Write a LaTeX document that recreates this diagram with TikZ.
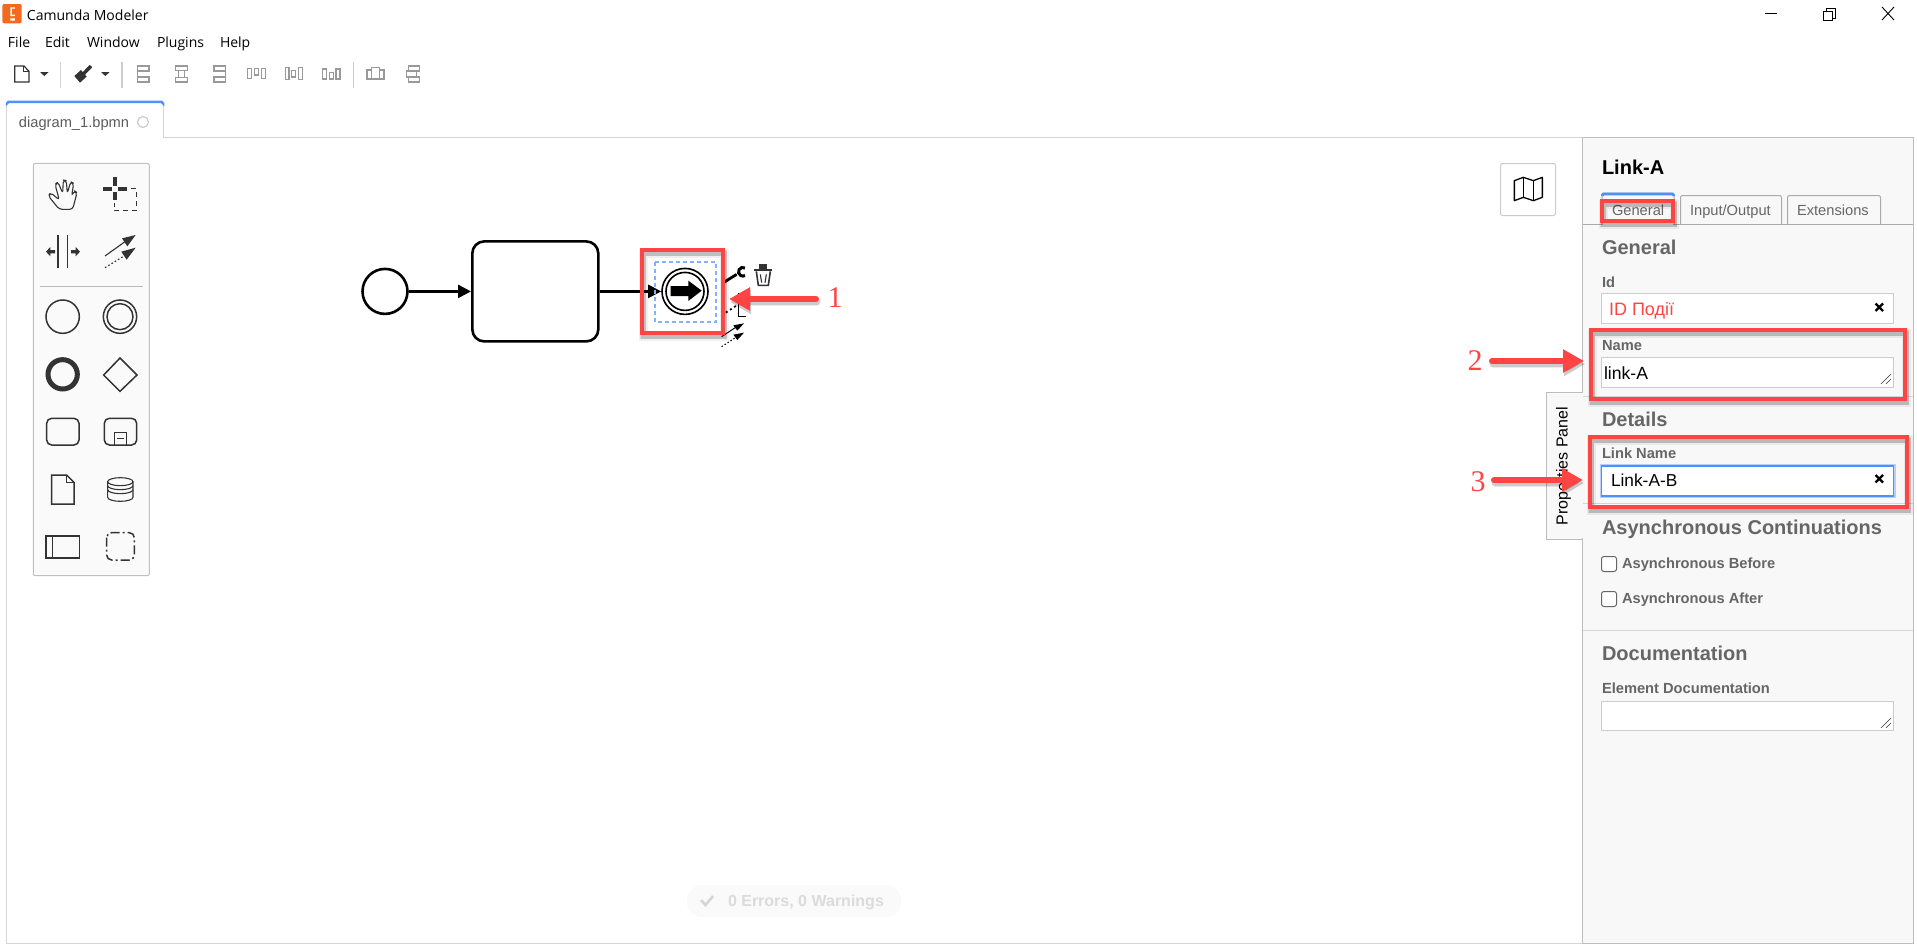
\documentclass[tikz,border=0pt]{standalone}
\usepackage{fontspec}
\setmainfont{Liberation Sans}
\newfontfamily\uifont{Open Sans}
\newfontfamily\annfont{Liberation Serif}
\usetikzlibrary{arrows.meta,calc}
\definecolor{redann}{HTML}{FF4444}
\definecolor{panelbg}{HTML}{F8F8F8}
\definecolor{inputline}{HTML}{CCCCCC}
\definecolor{bordergray}{HTML}{D5D5D5}
\definecolor{paneledge}{HTML}{BDBDBD}
\definecolor{headgray}{HTML}{666666}
\definecolor{icongray}{HTML}{999999}
\definecolor{iconink}{HTML}{333333}
\definecolor{focusblue}{HTML}{4D90FF}
\definecolor{focusglow}{HTML}{B5D0FF}
\definecolor{tabblue}{HTML}{4D90FF}
\definecolor{orangelogo}{HTML}{F4691C}
\newcommand{\fs}[1]{\fontsize{#1}{#1}\selectfont}
\newcommand{\redbox}[2]{%
  \foreach \wd/\op in {9/.06,6.5/.09,5/.12}{\draw[line width=\wd pt,black,opacity=\op] ($(#1)+(1,3)$) rectangle ($(#2)+(1,3)$);}%
  \draw[redframe] (#1) rectangle (#2);}
\newcommand{\redarrow}[2]{%
  \foreach \wd/\op in {8/.08,6/.13}{\draw[line width=\wd pt,black,opacity=\op,line cap=round,-{Triangle[length=21pt,width=23pt]}] ($(#1)+(1,3)$) -- ($(#2)+(1,3)$);}%
  \draw[annarrow] (#1) -- (#2);}
\tikzset{
  txt/.style={inner sep=0,outer sep=0,anchor=west,yshift=-1.7pt,execute at begin node=\vphantom{Ag}},
  uitxt/.style={txt,font=\uifont\fs{14},text=black},
  tabtxt/.style={txt,font=\fs{14.67},text=headgray},
  heading/.style={txt,font=\bfseries\fs{20},text=headgray},
  fieldlabel/.style={txt,font=\bfseries\fs{14.67},text=headgray},
  inputbox/.style={draw=inputline,fill=white,line width=1pt},
  flowline/.style={line width=2.6pt,black,-{Triangle[length=13pt,width=13pt]}},
  redframe/.style={draw=redann,line width=3.2pt},
  annarrow/.style={redann,line width=6pt,line cap=round,-{Triangle[length=21pt,width=22pt]}},
  annnum/.style={font=\annfont\fs{30},text=redann,inner sep=0},
  pal/.style={draw=iconink,line width=1.5pt},
  tool/.style={draw=icongray,line width=1.4pt},
  clearx/.style={draw=black,line width=2.2pt},
}
\begin{document}
\begin{tikzpicture}[x=1pt,y=-1pt,line join=miter]
\useasboundingbox (0,0) rectangle (1917,948);
\fill[white] (0,0) rectangle (1917,948);

% ---- title bar
\begin{scope}[scale=1/3]
\fill[orangelogo,rounded corners=2pt] (7,12) rectangle (65,70);
\fill[white] (31,22) rectangle (45,26) (31,22) rectangle (36,48) (31,44) rectangle (45,48) (31,55) rectangle (45,62);
\end{scope}
\node[uitxt] (title) at (27,15) {Camunda Modeler};
\node[uitxt] (mfile) at (8,42) {File};
\node[uitxt] (medit) at (45,42) {Edit};
\node[uitxt] (mwindow) at (87,42) {Window};
\node[uitxt] (mplugins) at (157,42) {Plugins};
\node[uitxt] (mhelp) at (220,42) {Help};
\draw[black,line width=1pt] (1765,13) -- (1777,13);
\draw[black,line width=1pt] (1823.5,11.5) rectangle (1832.5,20.5);
\draw[black,line width=1pt] (1826,11.5) -- (1826,8.5) -- (1835.5,8.5) -- (1835.5,18) -- (1832.5,18);
\draw[black,line width=.9pt] (1882,7) -- (1894,20) (1894,7) -- (1882,20);

% ---- toolbar
\begin{scope}[scale=1/3]
\draw[iconink,line width=1.2pt,fill=white] (44,198) -- (72,198) -- (87,214) -- (87,246) -- (44,246) -- cycle;
\draw[iconink,line width=1pt] (72,198) -- (72,214) -- (87,214);
\fill[iconink] (120,216) -- (146,216) -- (133,228) -- cycle;
\draw[bordergray,line width=1pt] (181,186) -- (181,264);
\fill[iconink] (223,228) -- (243,210) -- (260,230) -- (240,248) -- cycle;
\draw[iconink,line width=3.5pt] (250,222) -- (273,198);
\fill[iconink] (303,216) -- (329,216) -- (316,228) -- cycle;
\draw[inputline,line width=2pt] (366,186) -- (366,264);
\end{scope}
\begin{scope}[shift={(130,55)},scale=1/3]
\draw[tool] (23,30) -- (23,84);
\draw[tool] (23,33) rectangle (57,48) (23,66) rectangle (57,81);
\draw[tool] (136,33) rectangle (173,47) (136,67) rectangle (173,81);
\draw[tool] (145,47) -- (145,67) (164,47) -- (164,67);
\draw[tool] (286,30) -- (286,84);
\draw[tool] (252,33) rectangle (286,48) (252,66) rectangle (286,81);
\draw[tool] (353,40) rectangle (365,70) (373,40) rectangle (385,60) (394,40) rectangle (406,70);
\draw[tool] (466,37) rectangle (477,74) (485,46) rectangle (497,66) (506,37) rectangle (518,74);
\draw[tool] (578,42) rectangle (590,72) (598,52) rectangle (610,72) (618,42) rectangle (630,72);
\draw[inputline,line width=1pt] (670,22) -- (670,98);
\draw[tool] (711,45) rectangle (724,72) (724,37) rectangle (748,72) (748,45) rectangle (762,72);
\draw[tool] (836,33) rectangle (868,48) (830,48) rectangle (860,66) (836,66) rectangle (868,81);
\end{scope}

% ---- tab and canvas frame
\draw[bordergray,line width=1pt] (6,137.5) -- (6,943) -- (1582,943);
\draw[bordergray,line width=1pt] (6.5,103) -- (6.5,137.5);
\draw[bordergray,line width=1pt] (163.5,103) -- (163.5,137.5) -- (1582,137.5);
\fill[white] (7,103) rectangle (163,139);
\draw[tabblue,line width=2.5pt,rounded corners=1.5pt] (7,103) -- (7,101.8) -- (163,101.8) -- (163,103);
\node[tabtxt,text=headgray!90!black] (tabname) at (19,122) {diagram\_1.bpmn};
\draw[inputline,line width=1.2pt] (143,122) circle (5.5);

% ---- palette
\begin{scope}[shift={(20,150)},scale=1/3]
\draw[bordergray!90!black,fill=white!98!black,line width=1pt,rounded corners=2pt] (40,40) rectangle (388,1277);
\draw[pal,line width=1.1pt,rounded corners=3pt,line join=round] (118,178) -- (85,138) -- (92,128) -- (118,150) -- (105,103) -- (114,96) -- (128,130) -- (130,90) -- (139,92) -- (142,130) -- (152,95) -- (161,100) -- (155,138) -- (163,122) -- (171,128) -- (158,178) -- cycle;
\draw[iconink,line width=3.6pt] (250,117) -- (275,117) (295,117) -- (320,117) (285,82) -- (285,107) (285,127) -- (285,150);
\draw[iconink,line width=1.3pt,dash pattern=on 5pt off 4pt] (333,116) -- (350,116) -- (350,182) -- (283,182) -- (283,158);
\draw[pal,line width=1.1pt] (114,255) -- (114,355) (142,255) -- (142,355);
\fill[iconink] (78,305) -- (91,291) -- (91,300) -- (105,300) -- (105,310) -- (91,310) -- (91,319) -- cycle;
\fill[iconink] (180,305) -- (167,291) -- (167,300) -- (153,300) -- (153,310) -- (167,310) -- (167,319) -- cycle;
\draw[iconink,line width=1.1pt] (255,318) -- (315,275);
\fill[iconink] (347,255) -- (306,265) -- (322,289) -- cycle;
\draw[iconink,line width=1.2pt,dash pattern=on 1.6pt off 2.2pt] (255,353) -- (312,318);
\fill[iconink] (347,293) -- (304,305) -- (320,329) -- cycle;
\draw[icongray!70,line width=1pt] (60,408) -- (368,408);
\draw[pal] (128,500) circle (50);
\draw[pal] (300,500) circle (50);
\draw[pal] (300,500) circle (39);
\draw[iconink,line width=5pt] (128,673) circle (44);
\draw[pal] (300,624) -- (351,675) -- (300,724) -- (251,675) -- cycle;
\draw[pal,rounded corners=5pt] (80,805) rectangle (177,885);
\draw[pal,rounded corners=5pt] (253,805) rectangle (350,885);
\draw[pal,line width=1.1pt] (283,885) -- (283,848) -- (320,848) -- (320,885);
\draw[pal,line width=1.1pt] (292,865) -- (312,865);
\draw[pal] (95,975) -- (140,975) -- (162,997) -- (162,1062) -- (95,1062) -- cycle;
\draw[pal,line width=1pt] (140,975) -- (140,997) -- (162,997);
\draw[pal,line width=1.1pt] (263,995) -- (263,1042) arc[start angle=180,end angle=0,x radius=38,y radius=12] -- (339,995);
\draw[pal,line width=1.1pt] (301,995) ellipse[x radius=38,y radius=12];
\draw[pal,line width=1.1pt] (263,1007) arc[start angle=180,end angle=0,x radius=38,y radius=12];
\draw[pal,line width=1.1pt] (263,1019) arc[start angle=180,end angle=0,x radius=38,y radius=12];
\draw[pal] (78,1158) rectangle (178,1224);
\draw[pal,line width=1.1pt] (97,1158) -- (97,1224);
\draw[pal,rounded corners=5pt,dash pattern=on 9pt off 3pt on 2pt off 3pt] (260,1148) rectangle (343,1230);
\end{scope}

% ---- BPMN diagram
\node[circle,draw=black,line width=2.6pt,minimum size=45pt,inner sep=0] (startev) at (385,291.4) {};
\node[rectangle,rounded corners=12pt,draw=black,line width=2.6pt,minimum width=126pt,minimum height=100pt,inner sep=0] (task) at (535.3,291.4) {};
\node[circle,draw=black,line width=1.6pt,minimum size=46pt,inner sep=0] (linkev) at (685,291.4) {};
\node[circle,draw=black,line width=1.6pt,minimum size=38pt,inner sep=0] (linkin) at (685,291.4) {};
\draw[flowline] (startev) -- (task);
\draw[flowline] (task) -- (linkev);
\draw[focusblue!70,line width=1.2pt,dash pattern=on 4pt off 3pt] (655,262) rectangle (716,322);

% ---- context pad and event glyph
\begin{scope}[shift={(630,240)},scale=1/3]
\fill[black] (122,138) -- (175,138) -- (175,122) -- (215,152) -- (175,183) -- (175,168) -- (122,168) -- cycle;
\draw[black,line width=2.8pt] (280,128) -- (320,103);
\draw[black,line width=3pt] (345,84) arc[start angle=-60,end angle=-300,radius=13] ;
\fill[iconink] (373,88) rectangle (425,94);
\fill[iconink] (388,72) rectangle (411,87);
\draw[iconink,line width=1.6pt] (379,94) -- (385,136) -- (415,136) -- (421,94);
\draw[iconink,line width=1.1pt] (391,103) -- (395,128) (409,103) -- (405,128);
\draw[black,line width=1.8pt,dash pattern=on 2pt off 3pt] (275,226) -- (322,195);
\draw[black,line width=1.1pt] (345,160) -- (325,160) -- (325,230) -- (347,230);
\draw[black,line width=1pt] (275,290) -- (320,260);
\fill[black] (342,250) -- (310,256) -- (322,272) -- cycle;
\draw[black,line width=1pt,dash pattern=on 1.5pt off 2pt] (275,320) -- (318,292);
\fill[black] (342,278) -- (310,284) -- (322,300) -- cycle;
\end{scope}

% ---- map button
\draw[inputline,fill=white,line width=1pt,rounded corners=2pt] (1500.5,163.5) rectangle (1555.5,215.5);
\begin{scope}[shift={(1440,120)},scale=1/3]
\draw[black,line width=1.3pt,line join=round] (223,182) -- (250,172) -- (280,182) -- (307,172) -- (307,232) -- (280,242) -- (250,232) -- (223,242) -- cycle;
\draw[black,line width=1.1pt] (250,172) -- (250,232) (280,182) -- (280,242);
\end{scope}

% ---- properties panel
\draw[paneledge,fill=panelbg,line width=1pt] (1582,137.5) -- (1913,137.5) -- (1913,943) -- (1582,943) -- cycle;
\draw[paneledge,fill=panelbg,line width=1pt] (1582,392) -- (1546,392) -- (1546,539) -- (1582,539);
\fill[panelbg] (1581,393) rectangle (1583,538);
\node[inner sep=0,rotate=90,font=\fs{16},text=black,execute at begin node=\vphantom{Ag}] (proptab) at (1563.5,466) {Properties Panel};

\node[txt,font=\bfseries\fs{20},text=black] (ptitle) at (1602,168) {Link-A};

\draw[bordergray!80!black,line width=1pt] (1583,224.5) -- (1913,224.5);
\draw[bordergray!80!black,fill=panelbg,line width=1pt,rounded corners=2pt] (1602,224) -- (1602,193) -- (1674,193) -- (1674,224);
\fill[panelbg] (1603,200) rectangle (1673,226);
\draw[tabblue,line width=2.6pt,rounded corners=1pt] (1602.5,196) -- (1602.5,194) -- (1673.5,194) -- (1673.5,196);
\draw[bordergray!80!black,line width=1pt,rounded corners=2pt] (1680.5,224) -- (1680.5,195.5) -- (1781.5,195.5) -- (1781.5,224);
\draw[bordergray!80!black,line width=1pt,rounded corners=2pt] (1787.5,224) -- (1787.5,195.5) -- (1880.5,195.5) -- (1880.5,224);
\node[tabtxt] (tgen) at (1612,210) {General};
\node[tabtxt] (tio) at (1690,210) {Input/Output};
\node[tabtxt] (text) at (1797,210) {Extensions};

\node[heading] (hgen) at (1602,248) {General};
\node[fieldlabel] (lid) at (1602,282) {Id};
\draw[inputbox] (1601.5,293.5) rectangle (1893.5,323.5);
\node[txt,font=\fs{18},text=redann] (vid) at (1609,309) {ID Події};
\draw[clearx] (1875.5,303.5) -- (1883,311) (1883,303.5) -- (1875.5,311);

\node[fieldlabel] (lname) at (1602,345) {Name};
\draw[inputbox] (1601.5,357) rectangle (1893.5,387);
\node[txt,font=\fs{17.6},text=black] (vname) at (1604,373) {link-A};
\draw[iconink,line width=.6pt] (1881,384) -- (1891,374) (1886,384) -- (1891,379);
\draw[bordergray,line width=.8pt] (1583,396) -- (1913,396);

\node[heading] (hdet) at (1602,420) {Details};
\node[fieldlabel] (llink) at (1602,453) {Link Name};
\draw[focusglow,line width=4pt] (1601.5,466) rectangle (1893.5,496);
\draw[focusblue,fill=white,line width=1.5pt] (1601.5,466) rectangle (1893.5,496);
\node[txt,font=\fs{17.3},text=black] (vlink) at (1611,480) {Link-A-B};
\draw[clearx] (1875.5,475) -- (1883,482.5) (1883,475) -- (1875.5,482.5);
\draw[bordergray,line width=.8pt] (1583,503.5) -- (1913,503.5);

\node[heading] (hasync) at (1602,528) {Asynchronous Continuations};
\draw[headgray,fill=white,line width=1pt,rounded corners=2.5pt] (1601.5,556.5) rectangle (1616.5,571.5);
\node[fieldlabel] (lbefore) at (1622,563) {Asynchronous Before};
\draw[headgray,fill=white,line width=1pt,rounded corners=2.5pt] (1601.5,591.5) rectangle (1616.5,606.5);
\node[fieldlabel] (lafter) at (1622,598) {Asynchronous After};
\draw[bordergray,line width=.8pt] (1583,630) -- (1913,630);

\node[heading] (hdoc) at (1602,654) {Documentation};
\node[fieldlabel] (ldoc) at (1602,688) {Element Documentation};
\draw[inputbox] (1601.5,701) rectangle (1893.5,730);
\draw[iconink,line width=.6pt] (1881,728) -- (1891,718) (1886,728) -- (1891,723);

% ---- status pill
\node[rectangle,rounded corners=15pt,fill=black!2,minimum width=214pt,minimum height=32pt,inner sep=0] (pill) at (794,901) {};
\draw[black!16,line width=2.6pt] (701,900) -- (705.5,905) -- (713,896);
\node[txt,font=\bfseries\fs{16},text=black!14] (pilltxt) at (728,900.5) {0 Errors, 0 Warnings};

% ---- red annotations
\redbox{642,250}{723,333}
\redbox{1602,201}{1673,221}
\redbox{1591,330}{1905,399}
\redbox{1590,437}{1907,507}
\coordinate (a1s) at (816,299);
\coordinate (a1e) at (729,299);
\coordinate (a2s) at (1492,361);
\coordinate (a2e) at (1584,361);
\coordinate (a3s) at (1494,480);
\coordinate (a3e) at (1583,480);
\redarrow{a1s}{a1e}
\redarrow{a2s}{a2e}
\redarrow{a3s}{a3e}
\node[annnum] (n1) at (835,298) {1};
\node[annnum] (n2) at (1475,361) {2};
\node[annnum] (n3) at (1478,482) {3};
\end{tikzpicture}
\end{document}
